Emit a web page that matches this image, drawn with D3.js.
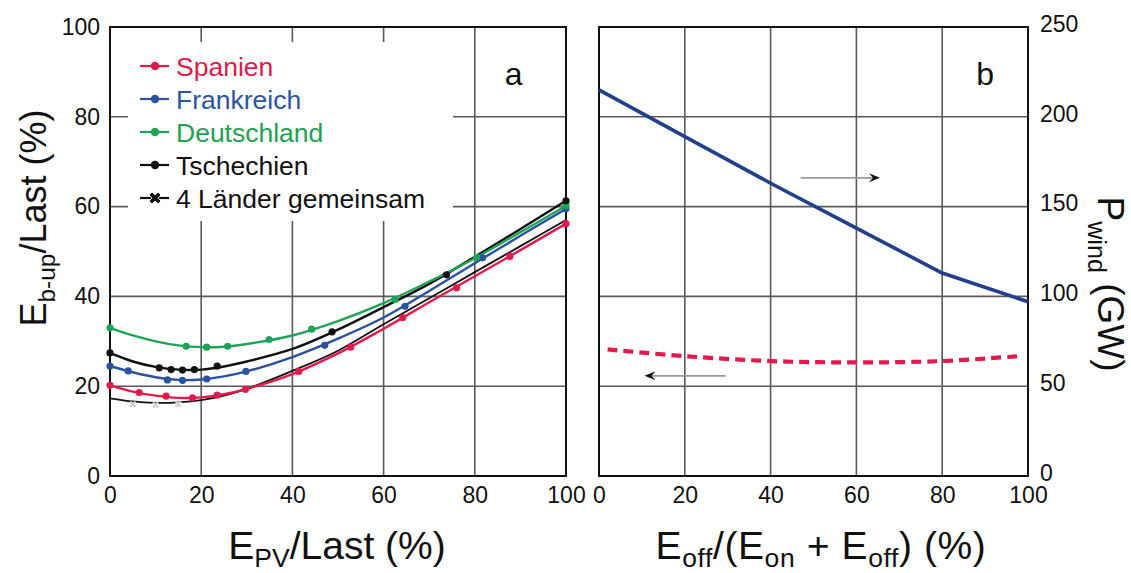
<!DOCTYPE html>
<html>
<head>
<meta charset="utf-8">
<script src="https://cdn.jsdelivr.net/npm/d3@7"></script>
<style>
  html, body { margin: 0; padding: 0; background: #fff; }
  svg { display: block; font-family: "Liberation Sans", Arial, Helvetica, sans-serif; }
</style>
</head>
<body>
<svg id="chart" width="1131" height="573"></svg>
<script>
// ---- Panel a: back-up energy vs. PV share (fitted curves) ----
const pvShare     = [0, 5, 10, 15, 20, 25, 30, 40, 50, 60, 70, 80, 90, 100];
const spanien     = [20.2, 18.8, 17.9, 17.4, 17.5, 18.2, 19.4, 22.7, 27.3, 32.8, 38.7, 44.5, 50.3, 56.2];
const frankreich  = [24.5, 23.1, 22.0, 21.4, 21.5, 22.2, 23.3, 26.5, 30.6, 35.3, 41.2, 47.4, 53.5, 59.5];
const deutschland = [33.0, 31.3, 30.0, 29.1, 28.7, 28.8, 29.4, 31.3, 34.5, 38.5, 43.3, 48.5, 54.3, 60.2];
const tschechien  = [27.4, 25.5, 24.3, 23.7, 23.7, 24.4, 25.5, 28.3, 32.6, 37.6, 42.8, 48.8, 55.0, 61.3];
const gemeinsam   = [17.3, 16.6, 16.3, 16.4, 16.9, 17.9, 19.4, 23.4, 27.9, 33.8, 39.6, 45.4, 51.2, 57.0];

// simulated points on each curve
const spanienPtsX     = [0, 6.4, 12.3, 18.1, 23.5, 29.7, 41.4, 52.8, 64.2, 76, 87.7, 100];
const spanienPtsY     = [20.2, 18.6, 17.8, 17.4, 18.0, 19.3, 23.3, 28.7, 35.3, 41.9, 48.9, 56.2];
const frankreichPtsX  = [0, 4, 12.6, 15.9, 21.2, 29.8, 47.1, 64.7, 81.7, 100];
const frankreichPtsY  = [24.5, 23.4, 21.4, 21.3, 21.6, 23.3, 29.1, 37.8, 48.6, 59.5];
const deutschlandPtsX = [0, 16.7, 21.2, 25.8, 34.9, 44.2, 62.5, 80.4, 100];
const deutschlandPtsY = [33.0, 28.9, 28.7, 28.9, 30.4, 32.7, 39.3, 48.7, 60.2];
const tschechienPtsX  = [0, 10.8, 13.4, 15.9, 18.5, 23.5, 48.7, 73.8, 100];
const tschechienPtsY  = [27.4, 24.1, 23.7, 23.6, 23.7, 24.5, 32.1, 44.8, 61.3];
const gemeinsamPtsX   = [5, 10, 15];
const gemeinsamPtsY   = [16.0, 15.8, 16.0];

const seriesNames  = ["Spanien", "Frankreich", "Deutschland", "Tschechien", "4 Länder gemeinsam"];
const seriesColors = ["#e31a4c", "#2a52a0", "#1ea456", "#111111", "#111111"];
const textColors   = ["#e0194b", "#2b54a3", "#20a251", "#111111", "#111111"];

// ---- Panel b: offshore share ----
const offShare   = [0, 20, 40, 60, 80, 100];
const pWind      = [215, 189, 163, 138, 113, 97];
const backupX    = [2, 20, 40, 60, 80, 98];
const backupY    = [28.2, 26.7, 25.6, 25.3, 25.6, 26.7];

const xTicks      = [0, 20, 40, 60, 80, 100];
const yTicksLeft  = [0, 20, 40, 60, 80, 100];
const yTicksRight = [0, 50, 100, 150, 200, 250];

// ---- layout ----
const plotTop = 27, plotBottom = 476;
const aL = 110, aR = 566, bL = 599, bR = 1028;

const svg = d3.select("#chart");
const xA = d3.scaleLinear().domain([0, 100]).range([aL, aR]);
const xB = d3.scaleLinear().domain([0, 100]).range([bL, bR]);
const yA = d3.scaleLinear().domain([0, 100]).range([plotBottom, plotTop]);
const yW = d3.scaleLinear().domain([0, 250]).range([plotBottom, plotTop]);

// grid lines
function grid(xs) {
  const g = svg.append("g").attr("stroke", "#5a5a5a").attr("stroke-width", 1.6);
  [20, 40, 60, 80].forEach(v => {
    g.append("line").attr("x1", xs(v)).attr("x2", xs(v)).attr("y1", plotTop).attr("y2", plotBottom);
    g.append("line").attr("x1", xs(0)).attr("x2", xs(100)).attr("y1", yA(v)).attr("y2", yA(v));
  });
}
grid(xA);
grid(xB);

// legend background hides the grid behind it
svg.append("rect").attr("x", 128).attr("y", 42).attr("width", 325).attr("height", 179).attr("fill", "#fff");

// frames
[[aL, aR], [bL, bR]].forEach(([l, r]) => {
  svg.append("rect").attr("x", l).attr("y", plotTop).attr("width", r - l).attr("height", plotBottom - plotTop)
    .attr("fill", "none").attr("stroke", "#111").attr("stroke-width", 2);
});

// axes (labels only; frame provides the lines)
function styleAxis(g) {
  g.select(".domain").remove();
  g.selectAll(".tick line").remove();
  g.selectAll("text").attr("font-size", 23).attr("fill", "#111")
    .attr("font-family", "'Liberation Sans', Arial, sans-serif");
}
svg.append("g").attr("transform", `translate(0,${plotBottom})`)
  .call(d3.axisBottom(xA).tickValues(xTicks).tickSize(0).tickPadding(11)).call(styleAxis);
svg.append("g").attr("transform", `translate(0,${plotBottom})`)
  .call(d3.axisBottom(xB).tickValues(xTicks).tickSize(0).tickPadding(11)).call(styleAxis);
svg.append("g").attr("transform", `translate(${aL},0)`)
  .call(d3.axisLeft(yA).tickValues(yTicksLeft).tickSize(0).tickPadding(10)).call(styleAxis);
svg.append("g").attr("transform", `translate(${bR},-3)`)
  .call(d3.axisRight(yW).tickValues(yTicksRight).tickSize(0).tickPadding(12)).call(styleAxis);

// panel a curves
const lineA = d3.line().x(d => xA(d[0])).y(d => yA(d[1])).curve(d3.curveCatmullRom.alpha(0.5));
const curves = [spanien, frankreich, deutschland, tschechien, gemeinsam];
// draw order: combined first, then countries
[4, 3, 1, 2, 0].forEach(i => {
  svg.append("path").datum(pvShare.map((x, j) => [x, curves[i][j]]))
    .attr("d", lineA).attr("fill", "none")
    .attr("stroke", seriesColors[i]).attr("stroke-width", i === 4 ? 1.8 : 2.4);
});

const ptsX = [spanienPtsX, frankreichPtsX, deutschlandPtsX, tschechienPtsX];
const ptsY = [spanienPtsY, frankreichPtsY, deutschlandPtsY, tschechienPtsY];
ptsX.forEach((xs, i) => {
  svg.append("g").selectAll("circle").data(xs.map((x, j) => [x, ptsY[i][j]]))
    .join("circle").attr("cx", d => xA(d[0])).attr("cy", d => yA(d[1])).attr("r", 3.6)
    .attr("fill", seriesColors[i]);
});
// faint crosses for the combined case
svg.append("g").selectAll("path").data(gemeinsamPtsX.map((x, j) => [x, gemeinsamPtsY[j]]))
  .join("path").attr("d", d3.symbol(d3.symbolCross, 30))
  .attr("transform", d => `translate(${xA(d[0])},${yA(d[1])}) rotate(45)`)
  .attr("fill", "#d2d2d2");

// legend
seriesNames.forEach((name, i) => {
  const cy = 66 + i * 33;
  const g = svg.append("g");
  g.append("line").attr("x1", 140).attr("x2", 169).attr("y1", cy).attr("y2", cy)
    .attr("stroke", seriesColors[i]).attr("stroke-width", 2.2);
  if (i < 4) {
    g.append("circle").attr("cx", 155).attr("cy", cy).attr("r", 4.2).attr("fill", seriesColors[i]);
  } else {
    g.append("path").attr("d", d3.symbol(d3.symbolCross, 90))
      .attr("transform", `translate(155,${cy}) rotate(45)`).attr("fill", "#111")
      .attr("stroke", "#fff").attr("stroke-width", 0.8);
  }
  g.append("text").attr("x", 176).attr("y", cy + 9.5).attr("font-size", 26.5)
    .attr("fill", textColors[i]).text(name);
});

// panel b lines
const lineW = d3.line().x((d, j) => xB(offShare[j])).y(d => yW(d));
svg.append("path").datum(pWind).attr("d", lineW).attr("fill", "none")
  .attr("stroke", "#223f8e").attr("stroke-width", 3.6).attr("stroke-linejoin", "round");

const lineBk = d3.line().x(d => xB(d[0])).y(d => yA(d[1])).curve(d3.curveCatmullRom.alpha(0.5));
svg.append("path").datum(backupX.map((x, j) => [x, backupY[j]])).attr("d", lineBk)
  .attr("fill", "none").attr("stroke", "#e31a4c").attr("stroke-width", 4.2)
  .attr("stroke-dasharray", "10,6");

// direction arrows
function arrow(x1, x2, y) {
  const dir = Math.sign(x2 - x1);
  svg.append("line").attr("x1", x1).attr("x2", x2 - dir * 6).attr("y1", y).attr("y2", y)
    .attr("stroke", "#9a9a9a").attr("stroke-width", 1.6);
  svg.append("path")
    .attr("d", `M${x2},${y} L${x2 - dir * 11},${y - 4.5} L${x2 - dir * 7},${y} L${x2 - dir * 11},${y + 4.5} Z`)
    .attr("fill", "#111");
}
arrow(xB(47), xB(65.5), yA(66.4));
arrow(xB(29.5), xB(10.6), yA(22.3));

// panel letters
svg.append("text").attr("x", xA(88.5)).attr("y", 85).attr("font-size", 32)
  .attr("text-anchor", "middle").attr("fill", "#111").text("a");
svg.append("text").attr("x", xB(90)).attr("y", 85).attr("font-size", 32)
  .attr("text-anchor", "middle").attr("fill", "#111").text("b");

// axis titles with subscripts
function titled(sel, parts, size, shiftFrac) {
  const shift = size * shiftFrac;
  let lowered = false;
  parts.forEach(([t, sub]) => {
    const ts = sel.append("tspan").text(t);
    if (sub) {
      ts.attr("font-size", size * 0.68).attr("dy", lowered ? 0 : shift);
      lowered = true;
    } else {
      ts.attr("dy", lowered ? -shift : 0);
      lowered = false;
    }
  });
}
titled(svg.append("text").attr("x", 337).attr("y", 559).attr("font-size", 39)
  .attr("text-anchor", "middle").attr("fill", "#111"),
  [["E"], ["PV", 1], ["/Last (%)"]], 39, 0.2);
titled(svg.append("text").attr("x", 821).attr("y", 559).attr("font-size", 39)
  .attr("text-anchor", "middle").attr("fill", "#111").attr("letter-spacing", 0.6),
  [["E"], ["off", 1], ["/(E"], ["on", 1], ["  + E"], ["off", 1], [") (%)"]], 39, 0.2);
titled(svg.append("text").attr("transform", "translate(46,218) rotate(-90)").attr("font-size", 36)
  .attr("text-anchor", "middle").attr("fill", "#111"),
  [["E"], ["b-up", 1], ["/Last (%)"]], 36, 0.26);
titled(svg.append("text").attr("transform", "translate(1098,284) rotate(90)").attr("font-size", 37)
  .attr("text-anchor", "middle").attr("fill", "#111"),
  [["P"], ["wind", 1], ["  (GW)"]], 37, 0.26);
</script>
</body>
</html>
